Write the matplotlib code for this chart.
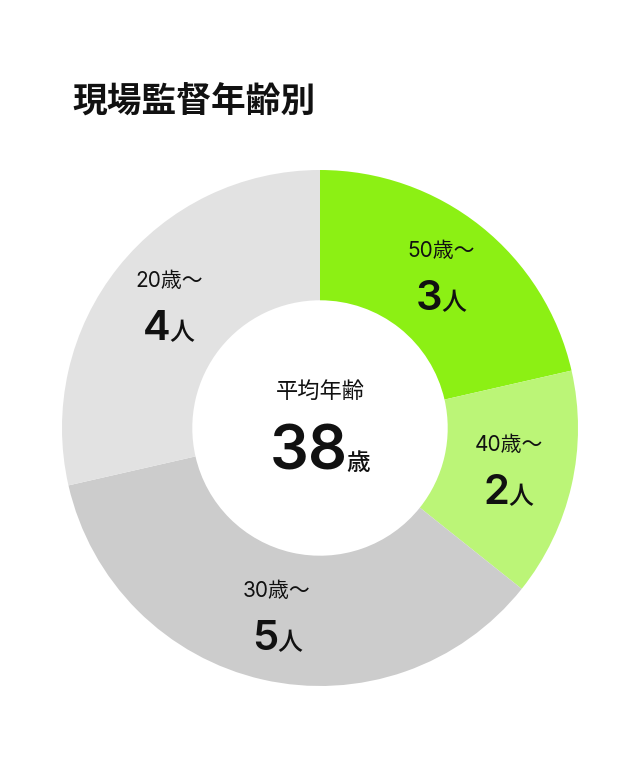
import matplotlib.pyplot as plt
import numpy as np
from matplotlib.transforms import offset_copy

plt.rcParams['font.family'] = ['Noto Sans CJK JP', 'DejaVu Sans']
NUMFONT = ['Inter', 'Noto Sans CJK JP']

# data
title = '現場監督年齢別'
groups = ['50歳〜', '40歳〜', '30歳〜', '20歳〜']
counts = [3, 2, 5, 4]
colors = ['#8cf014', '#bbf577', '#cccccc', '#e2e2e2']
center_label = '平均年齢'
avg_age = 38

W, H = 638, 760
fig = plt.figure(figsize=(W / 100, H / 100), dpi=100)
fig.patch.set_facecolor('white')

# pie axes: center (320, 428) px from top, radius 258 px
cx, cy, R = 320, H - 428, 258
ax = fig.add_axes([(cx - R) / W, (cy - R) / H, 2 * R / W, 2 * R / H])

wedges, _ = ax.pie(counts, colors=colors, startangle=90, counterclock=False,
                   radius=1, wedgeprops=dict(width=0.505, linewidth=0))
# pie() resets the limits, so set them afterwards
ax.set_xlim(-1, 1)
ax.set_ylim(-1, 1)
ax.set_aspect('equal')
ax.axis('off')

fig.text(72 / W, 1 - 102 / H, title, fontsize=25, fontweight='bold',
         ha='left', va='center', color='#111111')

renderer = fig.canvas.get_renderer()


def pair(x, y, big, small, big_size, small_size, dy_px, gap=-1):
    t1 = ax.text(x, y, big, fontsize=big_size, fontweight='semibold', family=NUMFONT,
                 ha='left', va='baseline', color='#111111')
    t2 = ax.text(x, y, small, fontsize=small_size, fontweight='medium',
                 ha='left', va='baseline', color='#111111')
    w1 = t1.get_window_extent(renderer).width
    w2 = t2.get_window_extent(renderer).width
    left = -(w1 + gap + w2) / 2
    t1.set_transform(offset_copy(ax.transData, fig, x=left, y=dy_px, units='dots'))
    t2.set_transform(offset_copy(ax.transData, fig, x=left + w1 + gap, y=dy_px,
                                 units='dots'))


# slice labels
total = sum(counts)
start = 90.0
for g, c in zip(groups, counts):
    span = 360.0 * c / total
    mid = np.deg2rad(start - span / 2)
    start -= span
    x, y = 0.75 * np.cos(mid), 0.75 * np.sin(mid)
    ax.annotate(g, (x, y), xytext=(0, 20 * 0.72), textcoords='offset points',
                ha='center', va='baseline', fontsize=15, family=NUMFONT,
                color='#111111')
    pair(x, y, str(c), '人', 30, 18, -33)

# center
ax.annotate(center_label, (0, 0), xytext=(0, 30 * 0.72), textcoords='offset points',
            ha='center', va='baseline', fontsize=16, color='#111111')
pair(0, 0, str(avg_age), '歳', 44, 17, -42)

fig.savefig('out.png', dpi=100, facecolor='white')
